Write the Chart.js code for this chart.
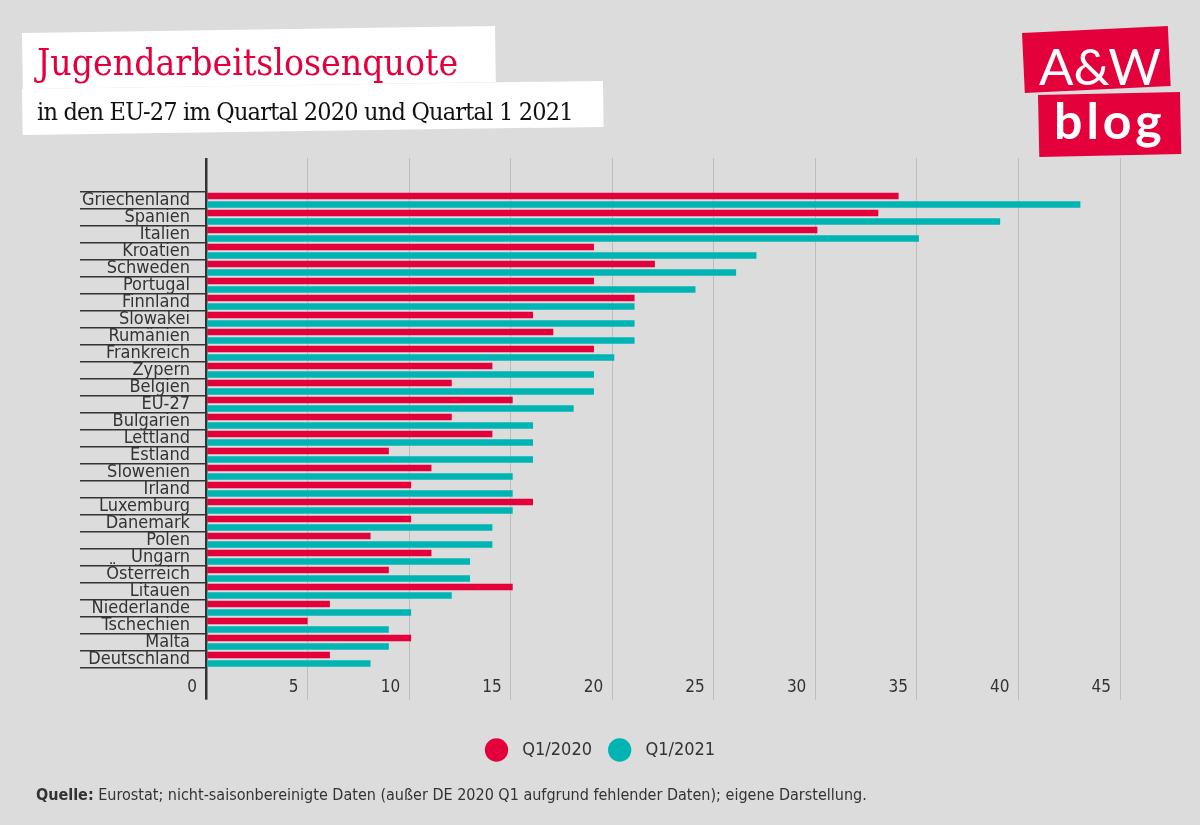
<!DOCTYPE html>
<html>
<head>
<meta charset="utf-8">
<script src="https://cdn.jsdelivr.net/npm/chart.js@4"></script>
<style>
html,body{margin:0;padding:0;background:#dcdcdc;}
#wrap{position:relative;width:1200px;height:825px;overflow:hidden;background:#dcdcdc;}
#c{position:absolute;left:0;top:0;}
.box{position:absolute;background:#fff;transform-origin:0 0;}
.red{position:absolute;background:#e4003b;transform-origin:0 0;}
.t{position:absolute;white-space:nowrap;line-height:1;}
</style>
</head>
<body>
<div id="wrap">
  <canvas id="c" width="1200" height="825"></canvas>
  <div class="box" style="left:22px;top:33px;width:473px;height:56px;transform:rotate(-0.85deg);"></div>
  <div class="box" style="left:22px;top:89px;width:581px;height:46px;transform:rotate(-0.8deg);"></div>
  <div class="t" id="title" style="left:37px;top:44px;font-family:'DejaVu Serif Condensed','DejaVu Serif',serif;font-size:37px;color:#e3003c;">Jugendarbeitslosenquote</div>
  <div class="t" id="sub" style="left:37px;top:99px;font-family:'DejaVu Serif Condensed','DejaVu Serif',serif;font-size:25px;letter-spacing:-0.8px;color:#111;">in den EU-27 im Quartal 2020 und Quartal 1 2021</div>
  <div class="red" style="left:1022px;top:33px;width:146px;height:60px;transform:rotate(-2.7deg);"></div>
  <div class="red" style="left:1038px;top:95px;width:142px;height:62px;transform:rotate(-1.2deg);"></div>
  <div class="t" style="left:1039px;top:40px;font-family:Lato,sans-serif;font-size:51px;color:#fff;">A&amp;W</div>
  <div class="t" style="left:1054px;top:95px;font-family:Lato,sans-serif;font-weight:bold;font-size:50px;letter-spacing:4px;color:#fff;">blog</div>
  <div class="t" id="src" style="left:36px;top:787px;font-family:'DejaVu Sans Condensed','DejaVu Sans',sans-serif;font-size:16px;color:#333;"><b>Quelle:</b> Eurostat; nicht-saisonbereinigte Daten (außer DE 2020 Q1 aufgrund fehlender Daten); eigene Darstellung.</div>
</div>
<script>
const categories = ["Griechenland","Spanien","Italien","Kroatien","Schweden","Portugal","Finnland","Slowakei","Rumänien","Frankreich","Zypern","Belgien","EU-27","Bulgarien","Lettland","Estland","Slowenien","Irland","Luxemburg","Dänemark","Polen","Ungarn","Österreich","Litauen","Niederlande","Tschechien","Malta","Deutschland"];
const q2020 = [34.1,33.1,30.1,19.1,22.1,19.1,21.1,16.1,17.1,19.1,14.1,12.1,15.1,12.1,14.1,9.0,11.1,10.1,16.1,10.1,8.1,11.1,9.0,15.1,6.1,5.0,10.1,6.1];
const q2021 = [43.05,39.1,35.1,27.1,26.1,24.1,21.1,21.1,21.1,20.1,19.1,19.1,18.1,16.1,16.1,16.1,15.1,15.1,15.1,14.1,14.1,13.0,13.0,12.1,10.1,9.0,9.0,8.1];
const seriesNames = ["Q1/2020","Q1/2021"];
const xTickLabels = ["0","5","10","15","20","25","30","35","40","45"];

const F = "'DejaVu Sans Condensed', 'DejaVu Sans', sans-serif";
const RED = '#e4003b', TEAL = '#00b4b4';
const gridColor = c => (c.tick && c.tick.value === 0) ? '#333333' : '#bdbdbd';
const gridWidth = c => (c.tick && c.tick.value === 0) ? 2.5 : 1;

new Chart(document.getElementById('c'), {
  type: 'bar',
  data: {
    labels: categories,
    datasets: [
      {label: seriesNames[0], data: q2020, backgroundColor: RED, borderWidth: 0, categoryPercentage: 1, barPercentage: 0.78},
      {label: seriesNames[1], data: q2021, backgroundColor: TEAL, borderWidth: 0, categoryPercentage: 1, barPercentage: 0.78}
    ]
  },
  options: {
    indexAxis: 'y',
    responsive: false,
    animation: false,
    layout: {padding: {left: 0, right: 0, top: 0, bottom: 56}},
    plugins: {
      tooltip: {enabled: false},
      legend: {
        position: 'bottom',
        labels: {
          usePointStyle: true, pointStyle: 'circle', pointStyleWidth: 23.3, boxHeight: 16.5,
          padding: 16, color: '#333', font: {family: F, size: 18},
          generateLabels: chart => Chart.defaults.plugins.legend.labels.generateLabels(chart).map(l => Object.assign(l, {text: ' ' + l.text}))
        }
      }
    },
    scales: {
      x: {
        type: 'linear', position: 'bottom', min: 0, max: 45,
        ticks: {stepSize: 5, autoSkip: false, align: 'end', labelOffset: -9, padding: -22, color: '#333', font: {family: F, size: 17},
                callback: (v, i) => xTickLabels[i]},
        grid: {color: gridColor, lineWidth: gridWidth, tickLength: 32, drawOnChartArea: true},
        border: {display: false},
        afterFit: s => { const lh = (s.chart.legend && s.chart.legend.height) || 44; s.height = 825 - 56 - lh - 667.7; }
      },
      x2: {
        type: 'linear', position: 'top', min: 0, max: 45,
        ticks: {stepSize: 5, display: false},
        grid: {color: gridColor, lineWidth: gridWidth, tickLength: 33.7, drawOnChartArea: false},
        border: {display: false},
        afterFit: s => { s.height = 191.7; }
      },
      y: {
        type: 'category', position: 'left', offset: true,
        ticks: {autoSkip: false, padding: -110, color: '#333', font: {family: F, size: 18}},
        grid: {offset: true, drawOnChartArea: false, tickLength: 126, color: '#333333', lineWidth: 1.5},
        border: {display: false},
        afterFit: s => { s.width = 206; }
      },
      yR: {
        type: 'linear', position: 'right', axis: 'y',
        ticks: {display: false}, grid: {display: false}, border: {display: false},
        afterFit: s => { s.width = 80; }
      }
    }
  }
});
</script>
</body>
</html>
